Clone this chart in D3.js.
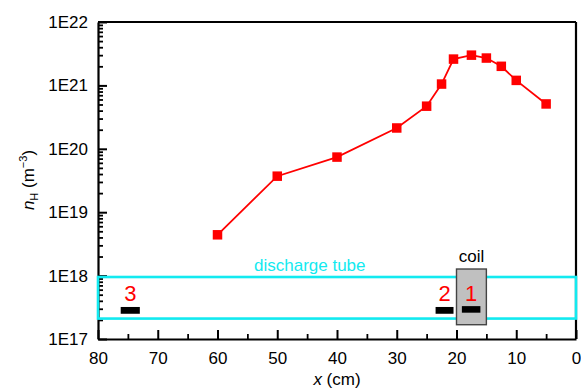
<!DOCTYPE html>
<html><head><meta charset="utf-8">
<script src="https://cdn.jsdelivr.net/npm/d3@7/dist/d3.min.js"></script>
<style>
html,body{margin:0;padding:0;background:#fff;}
svg{display:block;font-family:"Liberation Sans",Arial,sans-serif;}
</style></head>
<body>
<svg id="chart" width="581" height="390"></svg>
<script>
// ---- data ----
const xPos = [60, 50, 40, 30, 25, 22.5, 20.5, 17.5, 15, 12.5, 10, 5];
const nH   = [4.4e18, 3.7e19, 7.4e19, 2.13e20, 4.7e20, 1.05e21, 2.6e21, 3.0e21, 2.7e21, 2.0e21, 1.2e21, 5.1e20];
const xTicks = [80, 70, 60, 50, 40, 30, 20, 10, 0];
const xMinorTicks = [75, 65, 55, 45, 35, 25, 15, 5];
const yTicks = [1e17, 1e18, 1e19, 1e20, 1e21, 1e22];
const yTickLabels = ["1E17", "1E18", "1E19", "1E20", "1E21", "1E22"];
const tubeX = [80, 0];
const tubeY = [9.5e17, 2.1e17];
const coilX = [20, 15];
const coilY = [1.27e18, 1.68e17];
const probeLabels = ["3", "2", "1"];
const probeX0 = [76.2, 23.5, 19.1];
const probeX1 = [73, 20.5, 16];
const probeYTop = [3.2e17, 3.2e17, 3.3e17];
const probeYBot = [2.5e17, 2.5e17, 2.6e17];

// ---- layout ----
const svg = d3.select("#chart");
const L = 98, R = 576, T = 22, B = 339;
const x = d3.scaleLinear().domain([80, 0]).range([L, R]);
const y = d3.scaleLog().domain([1e17, 1e22]).range([B, T]);

const yMinor = [];
yTicks.slice(0, -1).forEach(d => { for (let k = 2; k <= 9; k++) yMinor.push(d * k); });

// minor ticks
svg.append("g").attr("transform", `translate(0,${B})`)
  .call(d3.axisBottom(x).tickValues(xMinorTicks).tickSize(-5).tickFormat(""))
  .call(g => g.select(".domain").remove())
  .call(g => g.selectAll("line").attr("stroke", "#000").attr("stroke-width", 1.8));
svg.append("g").attr("transform", `translate(${L},0)`)
  .call(d3.axisLeft(y).tickValues(yMinor).tickSize(-5).tickFormat(""))
  .call(g => g.select(".domain").remove())
  .call(g => g.selectAll("line").attr("stroke", "#000").attr("stroke-width", 1.8));

// major axes
svg.append("g").attr("transform", `translate(0,${B})`)
  .call(d3.axisBottom(x).tickValues(xTicks).tickSizeInner(-9).tickSizeOuter(0).tickPadding(13).tickFormat(d3.format("d")))
  .call(g => g.select(".domain").attr("stroke", "#000").attr("stroke-width", 2.2))
  .call(g => g.selectAll("line").attr("stroke", "#000").attr("stroke-width", 2))
  .call(g => g.selectAll("text").attr("font-size", 17).attr("fill", "#000").attr("font-family", "Liberation Sans, Arial, sans-serif"));
svg.append("g").attr("transform", `translate(${L},0)`)
  .call(d3.axisLeft(y).tickValues(yTicks).tickSizeInner(-9).tickSizeOuter(0).tickPadding(10).tickFormat((d, i) => yTickLabels[i]))
  .call(g => g.select(".domain").attr("stroke", "#000").attr("stroke-width", 2.2))
  .call(g => g.selectAll("line").attr("stroke", "#000").attr("stroke-width", 2))
  .call(g => g.selectAll("text").attr("font-size", 17).attr("fill", "#000").attr("font-family", "Liberation Sans, Arial, sans-serif"));

// top & right frame
svg.append("line").attr("x1", L).attr("x2", R).attr("y1", T).attr("y2", T).attr("stroke", "#000").attr("stroke-width", 2.2);
svg.append("line").attr("x1", R).attr("x2", R).attr("y1", T).attr("y2", B).attr("stroke", "#000").attr("stroke-width", 2.2);

// discharge tube
svg.append("rect")
  .attr("x", x(tubeX[0])).attr("y", y(tubeY[0]))
  .attr("width", x(tubeX[1]) - x(tubeX[0])).attr("height", y(tubeY[1]) - y(tubeY[0]))
  .attr("fill", "none").attr("stroke", "#12eaf0").attr("stroke-width", 2.6);
svg.append("text").attr("x", 254).attr("y", 271).attr("font-size", 17).attr("fill", "#12eaf0").text("discharge tube");

// coil
svg.append("rect")
  .attr("x", x(coilX[0])).attr("y", y(coilY[0]))
  .attr("width", x(coilX[1]) - x(coilX[0])).attr("height", y(coilY[1]) - y(coilY[0]))
  .attr("fill", "#c0c0c0").attr("stroke", "#444").attr("stroke-width", 1.4);
svg.append("text").attr("x", (x(coilX[0]) + x(coilX[1])) / 2).attr("y", 262)
  .attr("text-anchor", "middle").attr("font-size", 17).attr("fill", "#000").text("coil");

// probes
probeLabels.forEach((lab, i) => {
  svg.append("rect")
    .attr("x", x(probeX0[i])).attr("y", y(probeYTop[i]))
    .attr("width", x(probeX1[i]) - x(probeX0[i])).attr("height", y(probeYBot[i]) - y(probeYTop[i]))
    .attr("fill", "#000");
  svg.append("text").attr("x", (x(probeX0[i]) + x(probeX1[i])) / 2).attr("y", 301)
    .attr("text-anchor", "middle").attr("font-size", 22).attr("fill", "#ff0000").text(lab);
});

// data line
const pts = xPos.map((d, i) => [d, nH[i]]);
svg.append("path").datum(pts)
  .attr("d", d3.line().x(d => x(d[0])).y(d => y(d[1])))
  .attr("fill", "none").attr("stroke", "#ff0000").attr("stroke-width", 1.8);
const ms = 9.5;
svg.append("g").selectAll("rect").data(pts).join("rect")
  .attr("x", d => x(d[0]) - ms / 2).attr("y", d => y(d[1]) - ms / 2)
  .attr("width", ms).attr("height", ms).attr("fill", "#ff0000");

// axis titles
const xt = svg.append("text").attr("x", (L + R) / 2).attr("y", 385).attr("text-anchor", "middle").attr("font-size", 17).attr("fill", "#000");
xt.append("tspan").attr("font-style", "italic").text("x");
xt.append("tspan").text(" (cm)");

const yt = svg.append("text").attr("transform", "translate(34,180) rotate(-90)").attr("text-anchor", "middle").attr("font-size", 17).attr("fill", "#000");
yt.append("tspan").attr("font-style", "italic").text("n");
yt.append("tspan").attr("font-size", 11).attr("dy", 4).text("H");
yt.append("tspan").attr("dy", -4).text(" (m");
yt.append("tspan").attr("font-size", 11).attr("dy", -7).text("−3");
yt.append("tspan").attr("dy", 7).text(")");
</script>
</body></html>
